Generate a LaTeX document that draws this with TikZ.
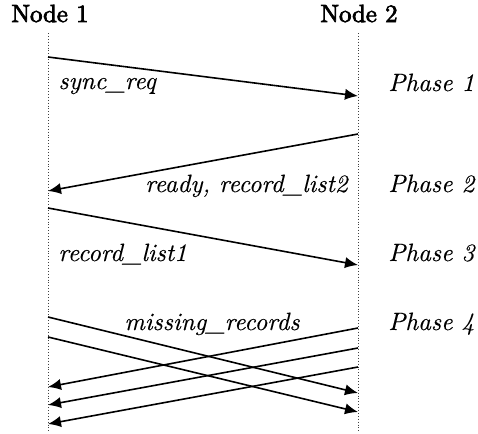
\documentclass[tikz,border=0pt]{standalone}
\usepackage{fontspec}
\usetikzlibrary{arrows.meta}
\newfontfamily\tfont{lmroman10-regular.otf}[FakeBold=3]
\newfontfamily\lfont{lmroman10-italic.otf}[FakeBold=0.2]
\tikzset{
  lifeline/.style={densely dotted, line width=0.45pt, black!75},
  msg/.style={line width=0.8pt, -{Latex[length=6.5pt,width=5.6pt]}},
  title/.style={font=\tfont\fontsize{12.4}{15}\selectfont, anchor=base, inner sep=0pt},
  lbl/.style={font=\lfont\fontsize{12.5}{15}\selectfont, anchor=base, inner sep=0pt},
}
\begin{document}
\begin{tikzpicture}[x=0.5pt,y=-0.5pt]
\useasboundingbox (0,0) rectangle (478,434);
% titles
\node[title] (t1) at (50,22) {Node 1};
\node[title] (t2) at (359,22) {Node 2};
% lifelines
\coordinate (l1a) at (48,33);
\coordinate (l1b) at (48,432);
\coordinate (l2a) at (358,33);
\coordinate (l2b) at (358,432);
\draw[lifeline] (l1a) -- (l1b);
\draw[lifeline] (l2a) -- (l2b);
% message endpoints
\coordinate (a1s) at (48,57);   \coordinate (a1e) at (358,96);
\coordinate (a2s) at (358,134); \coordinate (a2e) at (48,191);
\coordinate (a3s) at (48,208);  \coordinate (a3e) at (358,265);
\coordinate (a4s) at (48,317);  \coordinate (a4e) at (358,393);
\coordinate (a5s) at (48,337);  \coordinate (a5e) at (358,412);
\coordinate (a6s) at (358,328); \coordinate (a6e) at (48,387);
\coordinate (a7s) at (358,348); \coordinate (a7e) at (48,405);
\coordinate (a8s) at (358,367); \coordinate (a8e) at (48,424);
\draw[msg] (a1s) -- (a1e);
\draw[msg] (a2s) -- (a2e);
\draw[msg] (a3s) -- (a3e);
\draw[msg] (a4s) -- (a4e);
\draw[msg] (a5s) -- (a5e);
\draw[msg] (a6s) -- (a6e);
\draw[msg] (a7s) -- (a7e);
\draw[msg] (a8s) -- (a8e);
% message labels
\node[lbl, anchor=base west] (m1) at (58,89) {sync\_req};
\node[lbl, anchor=base east] (m2) at (348,192) {ready, record\_list2};
\node[lbl, anchor=base west] (m3) at (58,261) {record\_list1};
\node[lbl] (m4) at (212,330) {missing\_records};
% phases
\node[lbl, anchor=base west] (p1) at (388,91) {Phase 1};
\node[lbl, anchor=base west] (p2) at (388,192) {Phase 2};
\node[lbl, anchor=base west] (p3) at (388,261) {Phase 3};
\node[lbl, anchor=base west] (p4) at (388,330) {Phase 4};
\end{tikzpicture}
\end{document}
